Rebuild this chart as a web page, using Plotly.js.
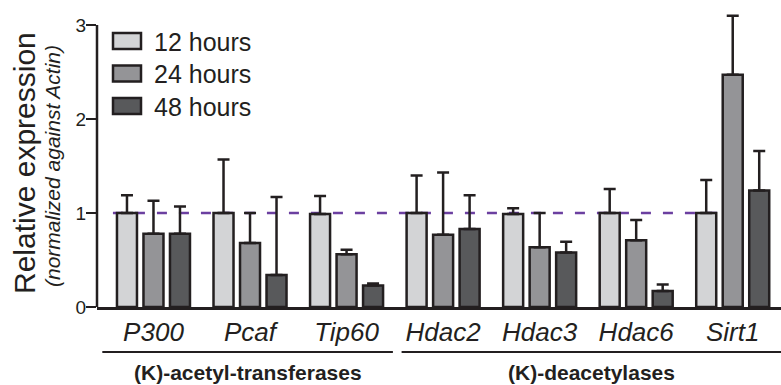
<!DOCTYPE html>
<html>
<head>
<meta charset="utf-8">
<script src="https://cdn.plot.ly/plotly-3.0.1.min.js"></script>
<style>html,body{margin:0;padding:0;background:#fff;}#chart{width:781px;height:385px;}</style>
</head>
<body>
<div id="chart"></div>
<script>
// ---- data ----
const genes = ["P300", "Pcaf", "Tip60", "Hdac2", "Hdac3", "Hdac6", "Sirt1"];
const seriesNames = ["12 hours", "24 hours", "48 hours"];
const values12 = [1.00, 1.00, 0.99, 1.00, 0.99, 1.00, 1.00];
const values24 = [0.78, 0.68, 0.56, 0.77, 0.635, 0.71, 2.47];
const values48 = [0.78, 0.34, 0.23, 0.83, 0.58, 0.17, 1.24];
const errTop12 = [1.19, 1.57, 1.18, 1.40, 1.05, 1.255, 1.35];
const errTop24 = [1.13, 1.00, 0.61, 1.43, 1.00, 0.925, 3.10];
const errTop48 = [1.07, 1.17, 0.25, 1.19, 0.695, 0.24, 1.66];
const groupNames = ["(K)-acetyl-transferases", "(K)-deacetylases"];
const groupFirst = [0, 3];
const groupLast = [2, 6];
const yTicks = [0, 1, 2, 3];
const refLevel = 1;

// ---- styles ----
const colors = ["#d3d4d6", "#949497", "#58595b"];
const ink = "#231f20";
const FONT = "Liberation Sans, Arial, sans-serif";

// plot-area geometry helpers (pixels -> paper)
const L = 97, R = 781, T = 10, B = 307;
const px = v => (v - L) / (R - L);
const py = v => (B - v) / (B - T);

const vals = [values12, values24, values48];
const tops = [errTop12, errTop24, errTop48];

const traces = vals.map((v, i) => ({
  type: "bar",
  name: seriesNames[i],
  x: genes,
  y: v,
  marker: {color: colors[i], line: {color: ink, width: 2.5}},
  error_y: {
    type: "data", symmetric: false,
    array: tops[i].map((t, k) => t - v[k]),
    arrayminus: v.map(() => 0),
    color: ink, thickness: 2.5, width: 6
  },
  showlegend: false,
  hoverinfo: "skip"
}));

const shapes = [];
const annotations = [];

// y axis line from 0 to 3
shapes.push({type: "line", xref: "paper", yref: "y", x0: 0, x1: 0,
  y0: yTicks[0], y1: yTicks[yTicks.length - 1], line: {color: ink, width: 2.5}});

// reference dashed line
shapes.push({type: "line", xref: "x", yref: "y", layer: "below",
  x0: -0.42, x1: 6.4, y0: refLevel, y1: refLevel,
  line: {color: "#6b3fa0", width: 2.5, dash: "10px,12px"}});

// custom legend
seriesNames.forEach((n, i) => {
  const top = 33 + i * 32.5;
  shapes.push({type: "rect", xref: "paper", yref: "paper",
    x0: px(113), x1: px(141), y0: py(top), y1: py(top + 16),
    fillcolor: colors[i], line: {color: ink, width: 2.5}});
  annotations.push({xref: "paper", yref: "paper", x: px(152), y: py(top + 8.5),
    xanchor: "left", yanchor: "middle", showarrow: false, text: n,
    font: {family: FONT, size: 25, color: ink}});
});

// group brackets + labels
groupNames.forEach((g, i) => {
  const x0 = groupFirst[i] - (i === 0 ? 0.53 : 0.43);
  const x1 = groupLast[i] + (i === groupNames.length - 1 ? 0.5 : 0.48);
  shapes.push({type: "line", xref: "x", yref: "paper", x0: x0, x1: x1,
    y0: py(352), y1: py(352), line: {color: ink, width: 2}});
  annotations.push({xref: "x", yref: "paper", x: (x0 + x1) / 2, y: py(372),
    xanchor: "center", yanchor: "middle", showarrow: false, text: "<b>" + g + "</b>",
    font: {family: FONT, size: 21, color: ink}});
});

// y axis titles
annotations.push({xref: "paper", yref: "paper", x: px(24), y: py(163),
  xanchor: "center", yanchor: "middle", showarrow: false, textangle: -90,
  text: "Relative expression", font: {family: FONT, size: 30, color: ink}});
annotations.push({xref: "paper", yref: "paper", x: px(52), y: py(166),
  xanchor: "center", yanchor: "middle", showarrow: false, textangle: -90,
  text: "<i>(normalized against Actin)</i>", font: {family: FONT, size: 21, color: ink}});

const layout = {
  width: 781, height: 385,
  margin: {l: L, r: 781 - R, t: T, b: 385 - B},
  paper_bgcolor: "#fff", plot_bgcolor: "rgba(0,0,0,0)",
  barmode: "group", bargap: 0.1765, bargroupgap: 0.245,
  showlegend: false,
  font: {family: FONT, color: ink},
  xaxis: {
    type: "category", range: [-0.585, 6.5],
    showline: true, linecolor: ink, linewidth: 2.5,
    ticks: "", showgrid: false, zeroline: false,
    tickfont: {family: "Liberation Sans, Arial, sans-serif", size: 26, color: ink, style: "italic"},
    ticklabelstandoff: 0
  },
  yaxis: {
    range: [0, 3.16], tickvals: yTicks, ticktext: yTicks.map(String),
    showline: false, showgrid: false, zeroline: false,
    ticks: "outside", ticklen: 10, tickwidth: 2.5, tickcolor: ink,
    tickfont: {family: FONT, size: 19, color: ink},
    ticklabelstandoff: -4
  },
  shapes: shapes,
  annotations: annotations
};

Plotly.newPlot("chart", traces, layout, {displayModeBar: false, staticPlot: true});
</script>
</body>
</html>
